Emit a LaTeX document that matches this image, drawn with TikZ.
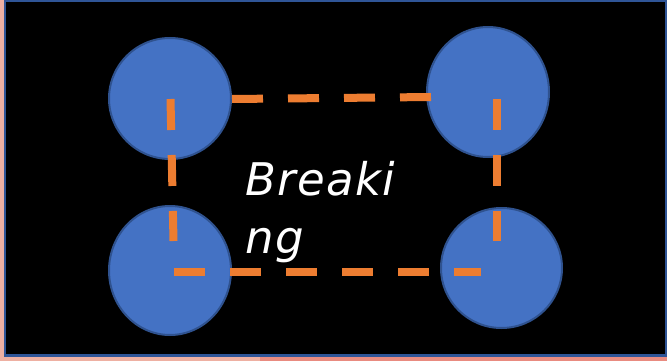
\documentclass[tikz,border=0pt]{standalone}
\usepackage{fontspec}
\setmainfont{DejaVu Sans}
\definecolor{bgpinkL}{HTML}{EEB0A2}
\definecolor{bgpinkR}{HTML}{E98B80}
\definecolor{frameblue}{HTML}{2F5597}
\definecolor{circfill}{HTML}{4472C4}
\definecolor{circline}{HTML}{2F528F}
\definecolor{dashorange}{HTML}{ED7D31}
\tikzset{
  ball/.style={ellipse, fill=circfill, draw=circline, line width=2pt, inner sep=0pt},
  link/.style={draw=dashorange, line width=8pt, dash pattern=on 31pt off 25pt},
  label/.style={text=white, font=\fontsize{45}{58}\selectfont\itshape\addfontfeature{LetterSpace=3}, align=left, inner sep=0pt}
}
\usetikzlibrary{shapes.geometric}
\begin{document}
\begin{tikzpicture}[x=1pt,y=-1pt]
\useasboundingbox (0,0) rectangle (667,361);
\fill[bgpinkL] (0,0) rectangle (260,361);
\fill[bgpinkR] (260,300) rectangle (667,361);
\fill[black, draw=frameblue, line width=2.5pt] (5,1) rectangle (666,355.5);
% circles
\node[ball, minimum width=122pt, minimum height=121pt] (tl) at (170,98.5) {};
\node[ball, minimum width=122pt, minimum height=130pt] (tr) at (488,92) {};
\node[ball, minimum width=122pt, minimum height=129pt] (bl) at (170,270.5) {};
\node[ball, minimum width=121pt, minimum height=120pt] (br) at (501.5,268) {};
% connector end points
\coordinate (a1) at (170.5,99);
\coordinate (a2) at (173.5,241);
\coordinate (b1) at (174,272);
\coordinate (b2) at (481,272);
\coordinate (c1) at (497,99);
\coordinate (c2) at (497,241);
\coordinate (d1) at (232,99);
\coordinate (d2) at (432,97);
\draw[link] (a1) -- (a2);
\draw[link] (b1) -- (b2);
\draw[link] (c1) -- (c2);
\draw[link] (d1) -- (d2);
\node[label, anchor=base west] (txt) at (245,253) {Breaki\\ng};
\end{tikzpicture}
\end{document}
